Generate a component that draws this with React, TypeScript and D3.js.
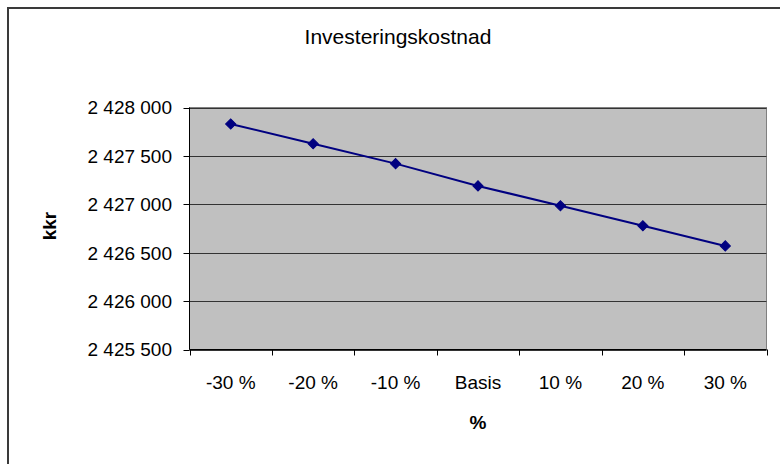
import React from "react";
import * as d3 from "d3";

const categories = ["-30 %", "-20 %", "-10 %", "Basis", "10 %", "20 %", "30 %"];
const values = [2427830, 2427625, 2427420, 2427190, 2426985, 2426778, 2426570];
const yTicks = [2425500, 2426000, 2426500, 2427000, 2427500, 2428000];
const title = "Investeringskostnad";
const yTitle = "kkr";
const xTitle = "%";

const W = 780;
const H = 464;
const plot = { left: 189.5, right: 766.5, top: 107.5, bottom: 349.5 };
const FONT = "'Liberation Sans', Arial, sans-serif";

const fmt = (v: number) => d3.format(",")(v).replace(/,/g, " ");

export default function App() {
  const x = d3.scaleBand<string>().domain(categories).range([plot.left, plot.right]).padding(0);
  const y = d3.scaleLinear().domain([2425500, 2428000]).range([plot.bottom, plot.top]);

  const line = d3
    .line<number>()
    .x((_, i) => (x(categories[i]) as number) + x.bandwidth() / 2)
    .y((d) => y(d));

  // square marker turned 45° to form a diamond
  const diamond = d3.symbol().type(d3.symbolSquare).size(52)();

  const bandEdges = categories.map((c) => x(c) as number).concat([plot.right]);

  return (
    <div style={{ position: "fixed", left: 0, top: 0 }}>
      <svg width={W} height={H} style={{ display: "block", background: "#fff" }} fontFamily={FONT}>
        {/* outer chart frame */}
        <rect x={8} y={8} width={W + 20} height={H + 20} fill="none" stroke="#3a3a3a" strokeWidth={2} />

        <text x={398} y={43.5} textAnchor="middle" fontSize={21} fill="#000">
          {title}
        </text>

        {/* plot area */}
        <rect
          x={plot.left}
          y={plot.top}
          width={plot.right - plot.left}
          height={plot.bottom - plot.top}
          fill="#c0c0c0"
          stroke="#808080"
          strokeWidth={1}
        />

        {/* horizontal gridlines */}
        {yTicks.map((t) => (
          <line
            key={"g" + t}
            x1={plot.left}
            x2={plot.right}
            y1={Math.round(y(t)) + 0.5}
            y2={Math.round(y(t)) + 0.5}
            stroke="#333"
            strokeWidth={1}
          />
        ))}

        {/* y axis */}
        <line x1={plot.left} x2={plot.left} y1={plot.top} y2={plot.bottom} stroke="#000" />
        {yTicks.map((t) => (
          <g key={"y" + t}>
            <line
              x1={plot.left - 6}
              x2={plot.left}
              y1={Math.round(y(t)) + 0.5}
              y2={Math.round(y(t)) + 0.5}
              stroke="#000"
            />
            <text x={172} y={y(t) + 6.8} textAnchor="end" fontSize={19} fill="#000">
              {fmt(t)}
            </text>
          </g>
        ))}

        {/* x axis */}
        <line x1={plot.left} x2={plot.right} y1={plot.bottom} y2={plot.bottom} stroke="#000" />
        {bandEdges.map((e, i) => (
          <line
            key={"xt" + i}
            x1={Math.round(e) + 0.5}
            x2={Math.round(e) + 0.5}
            y1={plot.bottom}
            y2={plot.bottom + 6}
            stroke="#000"
          />
        ))}
        {categories.map((c) => (
          <text
            key={"xl" + c}
            x={(x(c) as number) + x.bandwidth() / 2}
            y={388.5}
            textAnchor="middle"
            fontSize={19}
            fill="#000"
          >
            {c}
          </text>
        ))}

        {/* series */}
        <path d={line(values) ?? ""} fill="none" stroke="#000080" strokeWidth={2} />
        {values.map((v, i) => (
          <path
            key={"m" + i}
            d={diamond ?? ""}
            transform={`translate(${(x(categories[i]) as number) + x.bandwidth() / 2},${y(v)}) rotate(45)`}
            fill="#000080"
            stroke="#000080"
            strokeWidth={1}
          />
        ))}

        <text
          transform={`translate(56,226) rotate(-90)`}
          textAnchor="middle"
          fontSize={19}
          fontWeight="bold"
          fill="#000"
        >
          {yTitle}
        </text>
        <text x={478} y={429} textAnchor="middle" fontSize={19} fontWeight="bold" fill="#000">
          {xTitle}
        </text>
      </svg>
    </div>
  );
}
